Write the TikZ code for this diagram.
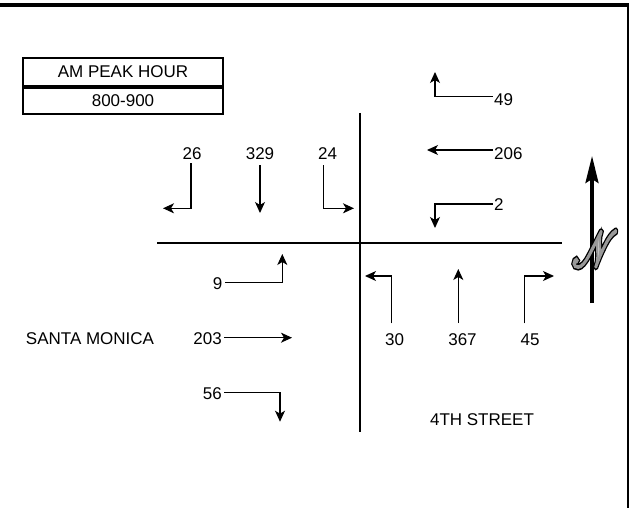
\documentclass[tikz,border=0pt]{standalone}
\usepackage{fontspec}
\setmainfont{Liberation Sans}
\usepackage{mathrsfs}
\usetikzlibrary{arrows.meta}

% stroked text through the pdf text render mode
\newcommand{\strokedN}[2]{%
    \special{pdf:literal direct 2 Tr #1 w #2}$\mathscr{N}$\special{pdf:literal direct 0 Tr}}

\begin{document}
\begin{tikzpicture}[
    x=1pt, y=-1pt,
    every node/.style={font=\fontsize{17}{20}\selectfont, inner sep=0pt},
    road/.style={
        draw=black,
        line width=2pt
    },
    mov/.style={
        draw=black,
        line width=1.1pt,
        -{Stealth[length=11pt, width=10pt, inset=3pt]}
    },
    vol/.style={
        anchor=base
    },
    hdrbox/.style={
        draw=black,
        line width=2pt,
        minimum width=200pt,
        align=center
    },
    compassN/.style={
        xscale=2.1,
        yscale=2.9
    }
]

\useasboundingbox (0,0) rectangle (629,508);

% ============================================================
% FRAME
% ============================================================

\draw[line width=3.7pt] (0,5.2) -- (628.7,5.2);
\draw[line width=1.5pt] (628,3.4) -- (628,508);

% Header
\node[
    hdrbox,
    minimum height=28pt
] (hdr) at (123,72) {AM PEAK HOUR};

\node[
    hdrbox,
    minimum height=26pt,
    anchor=north
] (hrs) at (hdr.south) {800-900};

% ============================================================
% STREETS
% ============================================================

\draw[road] (157,243) -- (562,243);
\draw[road] (360,113) -- (360,432);

\node[anchor=base] (santa) at (90,344) {SANTA MONICA};
\node[anchor=base] (fourth) at (482,425) {4TH STREET};

% ============================================================
% SOUTHBOUND (north leg)
% ============================================================

\node[vol] (n26) at (192,159.3) {26};
\node[vol] (n329) at (260,159.5) {329};
\node[vol] (n24) at (327.5,159.5) {24};

\coordinate (t26) at (163,208.3);
\coordinate (t329) at (260,213);
\coordinate (t24) at (354,208.3);

\draw[mov] ([shift={(-1pt,-4pt)}]n26.base) |- (t26);
\draw[mov] ([yshift=-5.5pt]n329.base) -- (t329);
\draw[mov] ([shift={(-4.2pt,-5.5pt)}]n24.base) |- (t24);

% ============================================================
% WESTBOUND (east leg)
% ============================================================

\node[anchor=base west] (n49) at (494,106) {49};
\node[anchor=base west] (n206) at (494,159.3) {206};
\node[anchor=base west] (n2) at (494,210.7) {2};

\coordinate (t49) at (435,72);
\coordinate (t206) at (427,150);
\coordinate (t2) at (435,228);

\draw[mov] ([shift={(-1pt,9.3pt)}]n49.base west) -| (t49);
\draw[mov] ([shift={(-1pt,9.3pt)}]n206.base west) -- (t206);
\draw[mov] ([shift={(-1pt,6.7pt)}]n2.base west) -| (t2);

% ============================================================
% EASTBOUND (west leg)
% ============================================================

\node[anchor=base east] (n9) at (222.5,289.3) {9};
\node[anchor=base east] (n203) at (222,344) {203};
\node[anchor=base east] (n56) at (222,399) {56};

\coordinate (t9) at (282.3,254);
\coordinate (t203) at (292,337.7);
\coordinate (t56) at (280,421.7);

\draw[mov] ([shift={(2.5pt,7pt)}]n9.base east) -| (t9);
\draw[mov] ([shift={(2pt,6.3pt)}]n203.base east) -- (t203);
\draw[mov] ([shift={(2pt,6.3pt)}]n56.base east) -| (t56);

% ============================================================
% NORTHBOUND (south leg)
% ============================================================

\node[vol] (n30) at (394.5,345) {30};
\node[vol] (n367) at (462.5,345) {367};
\node[vol] (n45) at (530,345) {45};

\coordinate (t30) at (365,276);
\coordinate (t367) at (458.3,269);
\coordinate (t45) at (554,276);

\draw[mov] ([shift={(-2.8pt,21.7pt)}]n30.base) |- (t30);
\draw[mov] ([shift={(-4.2pt,22pt)}]n367.base) -- (t367);
\draw[mov] ([shift={(-5.7pt,21.7pt)}]n45.base) |- (t45);

% ============================================================
% NORTH ARROW
% ============================================================

\coordinate (nfoot) at (592,303);
\coordinate (ntip) at (592,156);
\draw[
    line width=3.5pt,
    -{Stealth[length=27pt, width=13pt, inset=4pt]}
] (nfoot) -- (ntip);

% black rim, then grey body
\node[compassN, text=black] (northRim) at (595,249) {\strokedN{2.0}{0 G}};
\node[compassN, text=gray!45] (northN) at (595,249) {\strokedN{0.9}{0.6 G}};

\end{tikzpicture}
\end{document}
